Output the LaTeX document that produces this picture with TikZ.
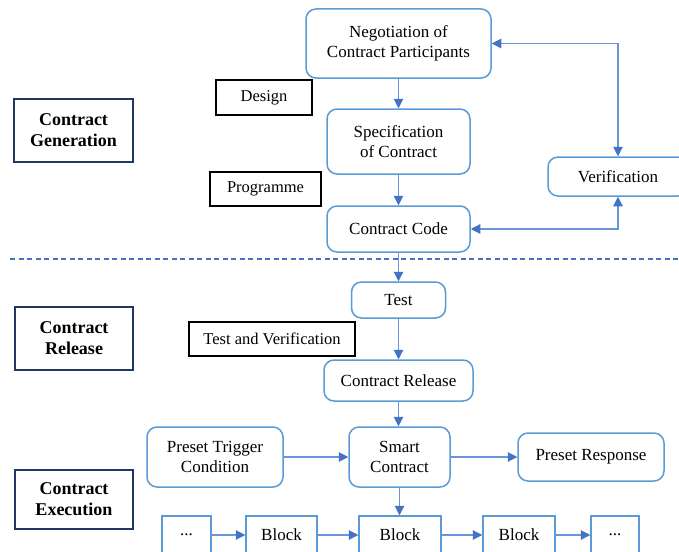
\documentclass[tikz,border=0pt]{standalone}
\usepackage{fontspec}
\setmainfont{Liberation Serif}
\usetikzlibrary{arrows.meta}
\definecolor{boxblue}{HTML}{5B9BD5}
\definecolor{lineblue}{HTML}{6A95D8}
\definecolor{headblue}{HTML}{4472C4}
\definecolor{navy}{HTML}{1F3864}
\begin{document}
\begin{tikzpicture}[x=1pt,y=-1pt,
  rbox/.style={draw=boxblue, line width=1.5pt, rounded corners=10pt, fill=white,
    align=center, inner sep=0pt, font=\fontsize{17}{20}\selectfont},
  blockbox/.style={draw=boxblue, line width=1.5pt, fill=white,
    align=center, inner sep=0pt, font=\fontsize{17}{20}\selectfont, minimum height=38pt},
  tagbox/.style={draw=black, line width=1.3pt, fill=white,
    align=center, inner sep=0pt, font=\fontsize{16.5}{20}\selectfont},
  phasebox/.style={draw=navy, line width=1.5pt, fill=white,
    align=center, inner sep=0pt, font=\fontsize{18}{21}\selectfont\bfseries},
  conn/.style={draw=lineblue, line width=1.1pt, -{Triangle[length=9.5pt,width=9.5pt,color=headblue]}},
  biconn/.style={draw=lineblue, line width=1.1pt,
    {Triangle[length=9.5pt,width=9.5pt,color=headblue]}-{Triangle[length=9.5pt,width=9.5pt,color=headblue]}},
]
\useasboundingbox (0,0) rectangle (679,551);
\clip (0,0) rectangle (679,551);
\fill[white] (0,0) rectangle (679,551);

% phase labels
\node[phasebox, minimum width=119pt, minimum height=63pt] (gen) at (73.5,130.5) {Contract\\Generation};
\node[phasebox, minimum width=118pt, minimum height=63pt] (relphase) at (74,338.5) {Contract\\Release};
\node[phasebox, minimum width=118pt, minimum height=59pt] (exec) at (74,499.5) {Contract\\Execution};

% step tags
\node[tagbox, minimum width=96pt, minimum height=35pt] (design) at (264,97.5) {Design};
\node[tagbox, minimum width=111pt, minimum height=34pt] (prog) at (265.5,189) {Programme};
\node[tagbox, minimum width=166pt, minimum height=34pt] (tav) at (272,339) {Test and Verification};

% generation
\node[rbox, minimum width=185pt, minimum height=69pt] (neg) at (398.5,43.5) {Negotiation of\\Contract Participants};
\node[rbox, minimum width=143pt, minimum height=65pt] (spec) at (398.5,141.5) {Specification\\of Contract};
\node[rbox, minimum width=143pt, minimum height=46pt] (code) at (398.5,229) {Contract Code};
\node[rbox, minimum width=140pt, minimum height=39pt] (verif) at (618,176.5) {Verification};

% separator
\draw[headblue, line width=1.2pt, dash pattern=on 5pt off 3.5pt] (10,259) -- (679,259);

% release
\node[rbox, minimum width=94pt, minimum height=36pt] (test) at (398.5,300) {Test};
\node[rbox, minimum width=149pt, minimum height=41pt] (rel) at (398.5,380.5) {Contract Release};

% execution
\node[rbox, minimum width=136pt, minimum height=60pt] (ptc) at (215,457) {Preset Trigger\\Condition};
\node[rbox, minimum width=101pt, minimum height=60pt] (sc) at (399.5,457) {Smart\\Contract};
\node[rbox, minimum width=146pt, minimum height=48pt] (pr) at (591,457) {Preset Response};

\node[blockbox, minimum width=49pt] (b0) at (186.5,535) {...};
\node[blockbox, minimum width=71pt] (b1) at (281.5,535) {Block};
\node[blockbox, minimum width=82pt] (b2) at (400,535) {Block};
\node[blockbox, minimum width=72pt] (b3) at (519,535) {Block};
\node[blockbox, minimum width=48pt] (b4) at (615,535) {...};

% connectors
\draw[conn] (neg.south) -- (spec.north);
\draw[conn] (spec.south) -- (code.north);
\draw[conn] (code.south) -- (test.north);
\draw[conn] (test.south) -- (rel.north);
\draw[conn] (rel.south) -- (rel.south |- sc.north);
\draw[conn] (sc.south) -- (sc.south |- b2.north);
\draw[conn] (ptc.east) -- (sc.west);
\draw[conn] (sc.east) -- (pr.west);
\draw[biconn] (neg.east) -| (verif.north);
\draw[biconn] (code.east) -| (verif.south);
\draw[conn] (b0.east) -- (b1.west);
\draw[conn] (b1.east) -- (b2.west);
\draw[conn] (b2.east) -- (b3.west);
\draw[conn] (b3.east) -- (b4.west);
\end{tikzpicture}
\end{document}
